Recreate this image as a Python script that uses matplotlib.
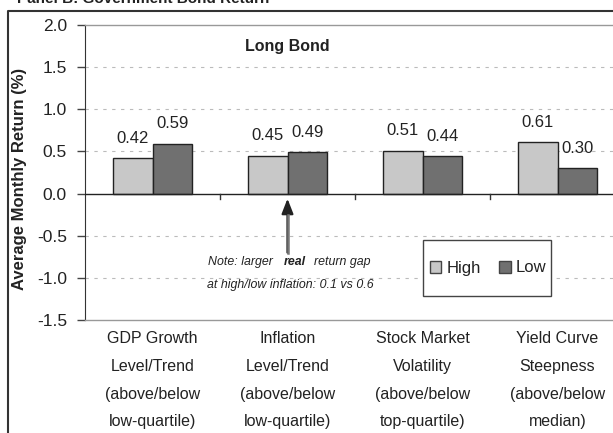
import matplotlib
matplotlib.use("Agg")
import matplotlib.pyplot as plt
from matplotlib.lines import Line2D
from matplotlib.patches import Patch, Rectangle
import numpy as np

plt.rcParams['font.family'] = ['Liberation Sans', 'DejaVu Sans']

categories = ["GDP Growth\nLevel/Trend\n(above/below\nlow-quartile)",
              "Inflation\nLevel/Trend\n(above/below\nlow-quartile)",
              "Stock Market\nVolatility\n(above/below\ntop-quartile)",
              "Yield Curve\nSteepness\n(above/below\nmedian)"]
high = [0.42, 0.45, 0.51, 0.61]
low = [0.59, 0.49, 0.44, 0.30]
yticks = [-1.5, -1.0, -0.5, 0.0, 0.5, 1.0, 1.5, 2.0]

W, H = 613, 433
fig = plt.figure(figsize=(W / 100, H / 100), dpi=100)


def fx(px):
    return px / W


def fy(py):
    return 1 - py / H


# axes: left at x=85px, categories 135px wide, y from 25px (2.0) to 320px (-1.5)
ax = fig.add_axes([fx(85), fy(320), 540 / W, (320 - 25) / H])

x = np.arange(len(categories)) + 0.5
bw = 0.29
c_high = "#c8c8c8"
c_low = "#707070"
ax.bar(x - bw / 2, high, bw, color=c_high, edgecolor="#222222", linewidth=1.0, zorder=3)
ax.bar(x + bw / 2, low, bw, color=c_low, edgecolor="#222222", linewidth=1.0, zorder=3)

for xi, v in zip(x - bw / 2, high):
    ax.annotate(f"{v:.2f}", (xi, v), xytext=(0, 14.5), textcoords="offset points",
                ha="center", va="center", fontsize=12, color="#222222")
for xi, v in zip(x + bw / 2, low):
    ax.annotate(f"{v:.2f}", (xi, v), xytext=(0, 14.5), textcoords="offset points",
                ha="center", va="center", fontsize=12, color="#222222")

ax.set_xlim(0, 4)
ax.set_ylim(-1.5, 2.0)
ax.set_yticks(yticks)
ax.set_yticklabels([f"{t:.1f}" for t in yticks], fontsize=12.5, color="#222222")
ax.tick_params(axis="y", direction="out", length=6, width=1, color="#444444", pad=7)

# gridlines
for t in [1.5, 1.0, 0.5, -0.5, -1.0]:
    ax.axhline(t, color="#bbbbbb", linewidth=0.8, linestyle=(0, (3, 5)), zorder=1)
ax.axhline(0, color="#222222", linewidth=1.0, zorder=4)

# x ticks on zero line at category boundaries
ax.set_xticks([])
for b in [1, 2, 3]:
    ax.plot([b, b], [0, -0.07], color="#333333", linewidth=1.0, zorder=4, clip_on=False)

ax.spines["right"].set_visible(False)
ax.spines["top"].set_color("#999999")
ax.spines["bottom"].set_color("#999999")
ax.spines["left"].set_color("#333333")
ax.spines["top"].set_linewidth(1.0)
ax.spines["bottom"].set_linewidth(1.0)

# category labels below axes
for xi, lab in zip(x, categories):
    ax.annotate(lab, (xi, -1.5), xytext=(0, -8), textcoords="offset points",
                ha="center", va="top", fontsize=11.5, color="#222222",
                linespacing=2.06, annotation_clip=False)

# title inside plot
ax.text(1.5, 1.75, "Long Bond", ha="center", va="center", fontsize=11.5,
        fontweight="bold", color="#222222")

# arrow and note
ax.annotate("", xy=(1.5, -0.06), xytext=(1.5, -0.7),
            arrowprops=dict(arrowstyle="-|>,head_width=0.35,head_length=0.9",
                            color="#222222", linewidth=1.6,
                            shrinkA=0, shrinkB=0))
ax.plot([1.5, 1.5], [-0.25, -0.7], color="#777777", linewidth=1.8, zorder=5)

note_kw = dict(va="center", fontsize=8.9, style="italic", color="#222222")
fig.text(fx(208), fy(262), "Note: larger", ha="left", **note_kw)
fig.text(fx(295), fy(262), "real", ha="center", fontweight="bold", **note_kw)
fig.text(fx(314), fy(262), "return gap", ha="left", **note_kw)
fig.text(fx(290), fy(285), "at high/low inflation: 0.1 vs 0.6", ha="center", **note_kw)

# legend (frame drawn separately)
ax.add_patch(Rectangle((fx(423), fy(296)), 128 / W, 56 / H, transform=fig.transFigure,
                       facecolor="white", edgecolor="#444444", linewidth=1.0,
                       zorder=6, clip_on=False))
handles = [Patch(facecolor=c_high, edgecolor="#444444", linewidth=1.0, label="High"),
           Patch(facecolor=c_low, edgecolor="#444444", linewidth=1.0, label="Low")]
leg = ax.legend(handles=handles, ncol=2, loc="center",
                bbox_to_anchor=(fx(488), fy(268)), bbox_transform=fig.transFigure,
                fontsize=12, frameon=False, handlelength=0.7,
                handleheight=0.7, handletextpad=0.3, columnspacing=1.1,
                borderpad=0.2, borderaxespad=0)
leg.set_zorder(8)
for txt in leg.get_texts():
    txt.set_color("#222222")

# y label
fig.text(fx(20), fy(179), "Average Monthly Return (%)", rotation=90,
         ha="center", va="center", fontsize=12, fontweight="bold", color="#222222")

# outer frame
fig.add_artist(Line2D([fx(8), fx(8), 1.0], [0.0, fy(11), fy(11)],
                      transform=fig.transFigure, color="#333333", linewidth=1.5))

# clipped panel title
fig.text(fx(17), fy(3), "Panel B: Government Bond Return", ha="left",
         va="baseline", fontsize=11, fontweight="bold", color="#222222")

fig.savefig("out.png", dpi=100)
